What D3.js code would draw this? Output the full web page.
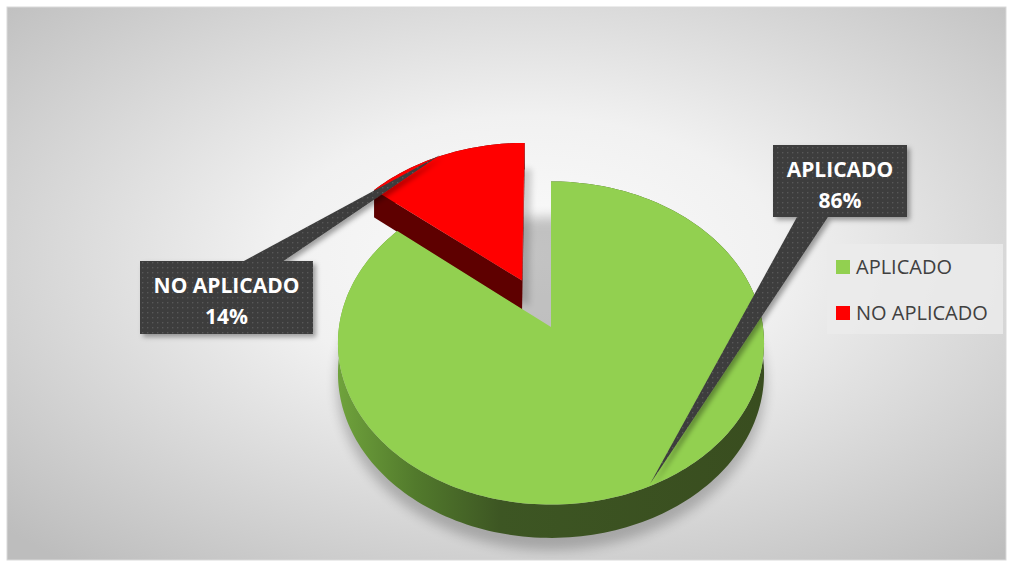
<!DOCTYPE html>
<html>
<head>
<meta charset="utf-8">
<script src="https://cdn.jsdelivr.net/npm/d3@7"></script>
<style>
  body { margin: 0; background: #ffffff; }
  #main { width: 1010px; height: 564px; }
</style>
</head>
<body>
<div id="main"></div>
<script>
// chart data
const categories = ["APLICADO", "NO APLICADO"];
const values = [86, 14];
const sliceColors = ["#92D050", "#FF0000"];
const labelTexts = ["86%", "14%"];

const config = {div: '#main', width: 1010, height: 564};

// pie geometry (tilted disc with a bit of perspective)
const geo = {cx: 551, cy: 327, rx: 212, ry: 160, k: 0.099, depth: 30, explode: 0.33};

const svg = d3.select(config.div)
    .append("svg")
    .attr("width", config.width)
    .attr("height", config.height)
    .style("font-family", "'Open Sans', sans-serif");

const defs = svg.append("defs");

const bg = defs.append("radialGradient")
    .attr("id", "bg")
    .attr("cx", "52%").attr("cy", "45%").attr("r", "72%");
bg.append("stop").attr("offset", "0%").attr("stop-color", "#fbfbfb");
bg.append("stop").attr("offset", "35%").attr("stop-color", "#f1f1f1");
bg.append("stop").attr("offset", "100%").attr("stop-color", "#bdbdbd");

const side = defs.append("linearGradient")
    .attr("id", "greenSide")
    .attr("gradientUnits", "userSpaceOnUse")
    .attr("x1", geo.cx - geo.rx).attr("x2", geo.cx + geo.rx)
    .attr("y1", 0).attr("y2", 0);
side.append("stop").attr("offset", "0%").attr("stop-color", "#6fa23c");
side.append("stop").attr("offset", "18%").attr("stop-color", "#527a2c");
side.append("stop").attr("offset", "38%").attr("stop-color", "#3d5623");
side.append("stop").attr("offset", "100%").attr("stop-color", "#394d1f");

const dots = defs.append("pattern")
    .attr("id", "dots")
    .attr("patternUnits", "userSpaceOnUse")
    .attr("width", 5).attr("height", 5);
dots.append("rect").attr("width", 5).attr("height", 5).attr("fill", "#3c3c3c");
dots.append("rect").attr("x", 2).attr("y", 2).attr("width", 1.4).attr("height", 1.4).attr("fill", "#585858");

const blur = defs.append("filter").attr("id", "blur")
    .attr("x", "-20%").attr("y", "-20%").attr("width", "140%").attr("height", "140%");
blur.append("feGaussianBlur").attr("stdDeviation", 6);

const blurSmall = defs.append("filter").attr("id", "blurSmall")
    .attr("x", "-20%").attr("y", "-20%").attr("width", "140%").attr("height", "140%");
blurSmall.append("feGaussianBlur").attr("stdDeviation", 3);

const drop = defs.append("filter").attr("id", "drop")
    .attr("x", "-20%").attr("y", "-20%").attr("width", "150%").attr("height", "150%");
drop.append("feDropShadow").attr("dx", 3).attr("dy", 3).attr("stdDeviation", 2.5)
    .attr("flood-color", "#000").attr("flood-opacity", 0.35);

// chart area
svg.append("rect")
    .attr("x", 7).attr("y", 7)
    .attr("width", 999).attr("height", 553)
    .attr("fill", "url(#bg)")
    .attr("stroke", "#d9d9d9");

// projection of a point of the unit disc (u right, v toward viewer) to screen
function proj(u, v, z) {
    const s = 1 / (1 - geo.k * v);
    return [geo.cx + geo.rx * u * s, geo.cy + geo.ry * v * s + z * geo.depth * s];
}

function rim(a, off, z) {
    return proj(Math.sin(a) + off[0], -Math.cos(a) + off[1], z);
}

function arcPts(a0, a1, off, z) {
    const n = Math.max(8, Math.ceil(Math.abs(a1 - a0) * 40));
    return d3.range(n + 1).map(i => rim(a0 + (a1 - a0) * i / n, off, z));
}

const line = d3.line();
const pie = d3.pie().sort(null).value(d => d)(values);
const color = d3.scaleOrdinal().domain(categories).range(sliceColors);

const slices = pie.map((p, i) => {
    const mid = (p.startAngle + p.endAngle) / 2;
    const e = i === 1 ? geo.explode : 0;
    return {
        name: categories[i], value: p.value,
        a0: p.startAngle, a1: p.endAngle,
        off: [Math.sin(mid) * e, -Math.cos(mid) * e]
    };
});

function topPath(s) {
    return line([proj(s.off[0], s.off[1], 0), ...arcPts(s.a0, s.a1, s.off, 0)]) + "Z";
}
function outerWall(s) {
    return line([...arcPts(s.a0, s.a1, s.off, 0), ...arcPts(s.a1, s.a0, s.off, 1)]) + "Z";
}
function radialWall(s, a) {
    return line([proj(s.off[0], s.off[1], 0), rim(a, s.off, 0), rim(a, s.off, 1), proj(s.off[0], s.off[1], 1)]) + "Z";
}

// soft shadow under the disc
const g = svg.append("g");
g.append("path")
    .attr("d", line(arcPts(0, 2 * Math.PI, [0, 0.06], 1)) + "Z")
    .attr("fill", "#000").attr("opacity", 0.22)
    .attr("filter", "url(#blur)");

// red slice (back, exploded)
const red = slices[1];
g.append("path")
    .attr("d", topPath(red))
    .attr("transform", "translate(7,26)")
    .attr("fill", "#000").attr("opacity", 0.17)
    .attr("filter", "url(#blurSmall)");
g.append("path").attr("d", outerWall(red)).attr("fill", "#5a0000");
g.append("path").attr("d", radialWall(red, red.a1)).attr("fill", "#6a0000");
g.append("path").attr("d", radialWall(red, red.a0)).attr("fill", "#5e0000");
g.append("path").attr("d", topPath(red)).attr("fill", color(red.name));

// green slice (front)
const green = slices[0];
g.append("path").attr("d", outerWall(green)).attr("fill", "url(#greenSide)");
g.append("path").attr("d", radialWall(green, green.a0)).attr("fill", "#3d5623");
g.append("path").attr("d", topPath(green)).attr("fill", color(green.name));

// data label callouts
const callouts = [
    {box: [773, 145, 134, 72], wedge: [[797, 217], [828, 217], [650, 484]], cat: 0},
    {box: [140, 261, 173, 73], wedge: [[242, 262], [282, 262], [440, 155]], cat: 1}
];

callouts.forEach(c => {
    const cg = svg.append("g").attr("filter", "url(#drop)");
    cg.append("path").attr("d", line(c.wedge) + "Z").attr("fill", "url(#dots)");
    cg.append("rect")
        .attr("x", c.box[0]).attr("y", c.box[1])
        .attr("width", c.box[2]).attr("height", c.box[3])
        .attr("fill", "url(#dots)");
    const tx = c.box[0] + c.box[2] / 2;
    svg.append("text")
        .attr("x", tx).attr("y", c.box[1] + 32)
        .attr("text-anchor", "middle")
        .attr("fill", "#ffffff").attr("font-weight", "bold").attr("font-size", 21)
        .text(categories[c.cat]);
    svg.append("text")
        .attr("x", tx).attr("y", c.box[1] + 63)
        .attr("text-anchor", "middle")
        .attr("fill", "#ffffff").attr("font-weight", "bold").attr("font-size", 21)
        .text(labelTexts[c.cat]);
});

// legend
const legend = svg.append("g");
legend.append("rect")
    .attr("x", 827).attr("y", 244)
    .attr("width", 176).attr("height", 90)
    .attr("fill", "#ebebeb").attr("opacity", 0.85);
const items = legend.selectAll("g.item")
    .data(categories)
    .join("g")
    .attr("class", "item")
    .attr("transform", (d, i) => `translate(836,${260 + i * 46})`);
items.append("rect")
    .attr("width", 14).attr("height", 14)
    .attr("fill", d => color(d));
items.append("text")
    .attr("x", 20).attr("y", 14)
    .attr("font-size", 20)
    .attr("fill", "#404040")
    .text(d => d);
</script>
</body>
</html>
